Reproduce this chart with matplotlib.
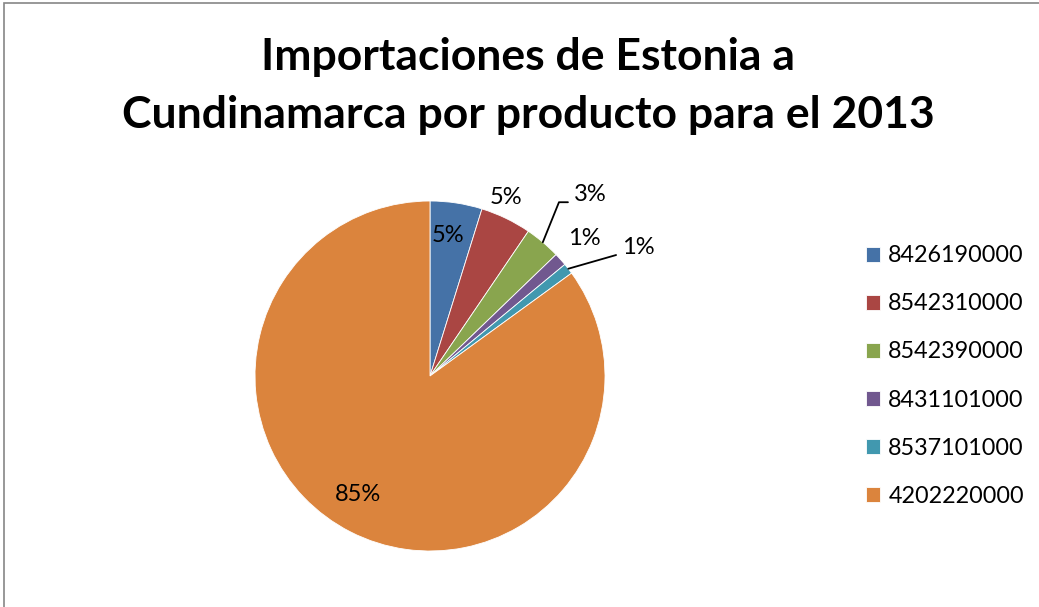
import numpy as np
import matplotlib.pyplot as plt
from matplotlib.patches import Rectangle

# datos (porcentaje de las importaciones)
productos = ['8426190000', '8542310000', '8542390000', '8431101000', '8537101000', '4202220000']
valores = [4.8, 4.7, 3.3, 1.2, 1.0, 85.0]
colores = ['#4572A7', '#AA4643', '#89A54E', '#71588F', '#4198AF', '#DB843D']
titulo = 'Importaciones de Estonia a\nCundinamarca por producto para el 2013'

plt.rcParams['font.family'] = ['Lato', 'DejaVu Sans']

fig = plt.figure(figsize=(10.39, 6.07), dpi=100)

# marco gris del grafico (cortado a la derecha y abajo)
fig.patches.append(Rectangle((3.5/1039, -0.1), 2, 1.1 - 2.5/607, transform=fig.transFigure,
                             fill=False, edgecolor='#868686', linewidth=1.2))

fig.text(528/1039, 1 - 86/607, titulo, ha='center', va='center', fontsize=32,
         fontweight='bold', linespacing=1.55)

ax = fig.add_axes([(430 - 175)/1039, (607 - 551)/607, 350/1039, 350/607])
wedges, _ = ax.pie(valores, colors=colores, startangle=90, counterclock=False, radius=1,
                   wedgeprops=dict(linewidth=0.6, edgecolor='white'))
ax.set_xlim(-1, 1)
ax.set_ylim(-1, 1)
ax.set_aspect('equal')
ax.axis('off')

total = sum(valores)
etiquetas = [f'{v/total*100:.0f}%' for v in valores]

# posicion de cada etiqueta: (radio, desplazamiento angular en grados)
pos = [(0.81, 1.5), (1.11, 2.8), None, (1.18, 0.0), None, (0.79, -4.4)]
for w, lab, p in zip(wedges, etiquetas, pos):
    if p is None:
        continue
    ang = np.deg2rad((w.theta1 + w.theta2) / 2 + p[1])
    ax.text(p[0]*np.cos(ang), p[0]*np.sin(ang), lab, ha='center', va='center', fontsize=17)

# etiquetas con linea guia: posicion del texto y pendiente del tramo inclinado
guias = {2: ((0.82, 1.035), 68), 4: ((1.095, 0.735), 16)}
for i, ((tx, ty), slope) in guias.items():
    w = wedges[i]
    ang = np.deg2rad((w.theta1 + w.theta2) / 2)
    ax.annotate(etiquetas[i], xy=(np.cos(ang), np.sin(ang)), xytext=(tx, ty),
                ha='left', va='center', fontsize=17,
                arrowprops=dict(arrowstyle='-', color='black', lw=1.3, shrinkA=2, shrinkB=0,
                                relpos=(0, 0.15),
                                connectionstyle=f'angle,angleA=0,angleB={slope},rad=0'))

leg = fig.legend(wedges, productos, loc='center left', bbox_to_anchor=(854/1039, 1 - 376/607),
                 frameon=False, fontsize=16.8, handlelength=0.62, handleheight=0.62,
                 handletextpad=0.35, labelspacing=1.16, borderpad=0)

fig.savefig('out.png', dpi=100)
